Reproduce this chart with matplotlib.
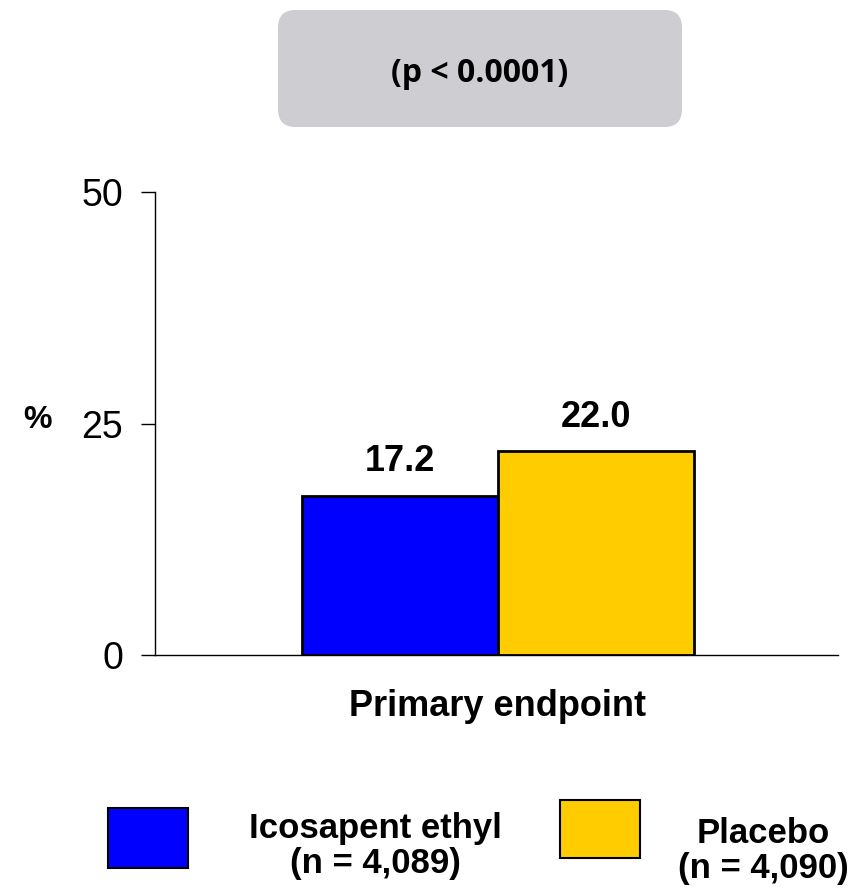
import matplotlib
matplotlib.use('Agg')
import matplotlib.pyplot as plt
from matplotlib.patches import FancyBboxPatch, Rectangle

# data
groups = ['Icosapent ethyl\n(n = 4,089)', 'Placebo\n(n = 4,090)']
values = [17.2, 22.0]
colors = ['#0000FF', '#FFCC00']
yticks = [0, 25, 50]
category = 'Primary endpoint'
pvalue = '(p < 0.0001)'

W, H = 868, 893
fig = plt.figure(figsize=(W / 100, H / 100), dpi=100)
plt.rcParams['font.family'] = ['Liberation Sans', 'DejaVu Sans']

ax = fig.add_axes([155 / W, 1 - 655 / H, 683 / W, 463 / H])
bars = ax.bar([0, 1], values, width=1.0, color=colors, edgecolor='black', linewidth=2)
for x, v in zip([0, 1], values):
    ax.text(x, v + 1.8, f'{v:.1f}', ha='center', va='bottom', fontsize=26, fontweight='bold')

ax.set_xlim(-1.25, 2.235)
ax.set_ylim(0, 50)
ax.set_yticks(yticks)
ax.set_yticklabels([str(t) for t in yticks], fontsize=27)
ax.tick_params(axis='y', length=10, width=1, pad=13)
ax.set_xticks([])
for s in ['top', 'right']:
    ax.spines[s].set_visible(False)
ax.spines['left'].set_linewidth(1)
ax.spines['bottom'].set_linewidth(1)

fig.text(38 / W, 1 - 420 / H, '%', ha='center', va='center', fontsize=23, fontweight='bold')
fig.text(498 / W, 1 - 707 / H, category, ha='center', va='center', fontsize=26, fontweight='bold')

# p-value box
box = FancyBboxPatch((278 / W, 1 - 127 / H), 404 / W, 117 / H,
                     boxstyle='round,pad=0,rounding_size=0.02',
                     transform=fig.transFigure, facecolor='#CDCDD2', edgecolor='none')
fig.patches.append(box)
fig.text(480 / W, 1 - 73 / H, pvalue, ha='center', va='center', fontsize=23,
         fontweight='bold', family=['Open Sans', 'DejaVu Sans'])

# legend
leg_boxes = [(108, 808, 80, 60), (560, 800, 80, 58)]
leg_text = [(375, 846), (763, 851)]
for (x, y, w, h), (tx, ty), c, g in zip(leg_boxes, leg_text, colors, groups):
    fig.patches.append(Rectangle((x / W, 1 - (y + h) / H), w / W, h / H,
                                 transform=fig.transFigure, facecolor=c,
                                 edgecolor='black', linewidth=1.5))
    fig.text(tx / W, 1 - ty / H, g, ha='center', va='center', fontsize=25,
             fontweight='bold', linespacing=1.1)

fig.savefig('out.png', dpi=100)
